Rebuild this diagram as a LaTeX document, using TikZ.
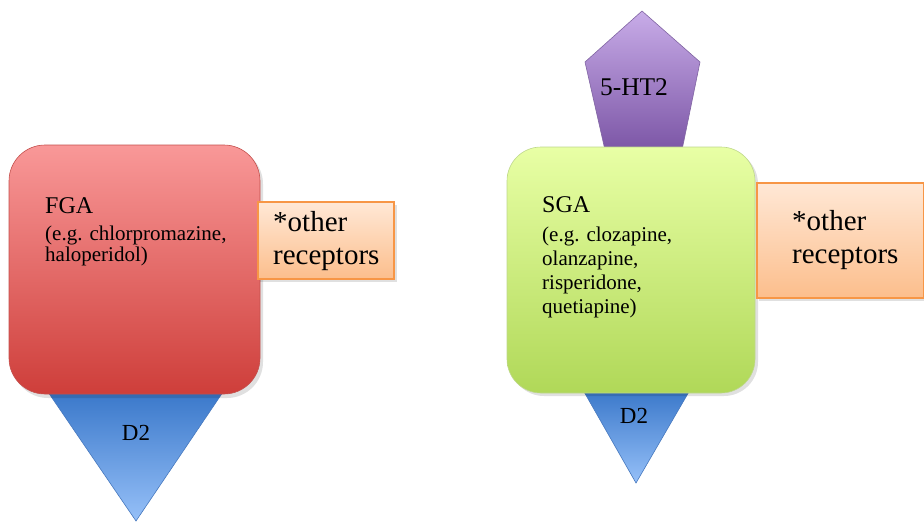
\documentclass[tikz,border=0pt]{standalone}
\usepackage{fontspec}
\setmainfont{Liberation Serif}
\begin{document}
\begin{tikzpicture}[x=1pt,y=-1pt,
  lbl/.style={inner sep=0pt,anchor=base west,align=left,text=black},
  clbl/.style={inner sep=0pt,anchor=base,text=black},
  redbox/.style={top color=fgatop,bottom color=fgabot,draw=fgadraw,line width=0.6pt},
  greenbox/.style={top color=sgatop,bottom color=sgabot,draw=sgadraw,line width=0.6pt},
  bluetri/.style={top color=d2top,bottom color=d2bot,draw=d2draw,line width=0.6pt},
  purppent/.style={top color=httop,bottom color=htbot,draw=htdraw,line width=0.6pt},
  orangebox/.style={top color=ortop,bottom color=orbot,draw=ordraw,line width=1.2pt},
  shd/.style={fill=black,opacity=0.12}
]
\definecolor{fgatop}{RGB}{249,152,152}
\definecolor{fgabot}{RGB}{206,62,58}
\definecolor{fgadraw}{RGB}{196,80,77}
\definecolor{sgatop}{RGB}{232,255,165}
\definecolor{sgabot}{RGB}{176,216,88}
\definecolor{sgadraw}{RGB}{190,215,140}
\definecolor{d2top}{RGB}{58,120,202}
\definecolor{d2bot}{RGB}{150,192,248}
\definecolor{d2draw}{RGB}{70,120,190}
\definecolor{httop}{RGB}{200,172,232}
\definecolor{htbot}{RGB}{124,86,166}
\definecolor{htdraw}{RGB}{128,100,162}
\definecolor{ortop}{RGB}{255,232,214}
\definecolor{orbot}{RGB}{252,190,140}
\definecolor{ordraw}{RGB}{247,150,70}

\useasboundingbox (0,0) rectangle (924,523);

% ---- left group ----
\path[bluetri] (48,392) -- (223,392) -- (136,521) -- cycle;
\path[shd,rounded corners=36pt] (12,148) rectangle (263,398);
\path[redbox,rounded corners=36pt] (9,145) rectangle (260,394);
\path[shd] (260,205) rectangle (397,282);
\path[orangebox] (258,202) rectangle (394,279);

\node[lbl,font=\fontsize{24}{26}\selectfont] (fga) at (45,213) {FGA};
\node[lbl,font=\fontsize{21}{21}\selectfont] (fgaex) at (45,261) {(e.g. chlorpromazine,\\haloperidol)};
\node[lbl,font=\fontsize{29}{32.5}\selectfont] (othl) at (273,264) {*other\\receptors};
\node[clbl,font=\fontsize{23}{26}\selectfont] (d2l) at (136,440) {D2};

% ---- right group ----
\path[purppent] (642,11) -- (700,62) -- (682,150) -- (605,150) -- (585,62) -- cycle;
\path[bluetri] (583,390) -- (690,390) -- (636,483) -- cycle;
\path[shd,rounded corners=34pt] (510,150) rectangle (758,396);
\path[greenbox,rounded corners=34pt] (507,147) rectangle (755,393);
\path[shd] (759,186) rectangle (926,301);
\path[orangebox] (757,183) rectangle (923.4,298);

\node[lbl,font=\fontsize{24}{26}\selectfont] (sga) at (542,212) {SGA};
\node[lbl,font=\fontsize{21}{23.7}\selectfont] (sgaex) at (542,313) {(e.g. clozapine,\\olanzapine,\\risperidone,\\quetiapine)};
\node[lbl,font=\fontsize{29}{33}\selectfont] (othr) at (792,263) {*other\\receptors};
\node[clbl,font=\fontsize{25.5}{26}\selectfont] (ht) at (634,95) {5-HT2};
\node[clbl,font=\fontsize{23}{26}\selectfont] (d2r) at (634,423) {D2};
\end{tikzpicture}
\end{document}
